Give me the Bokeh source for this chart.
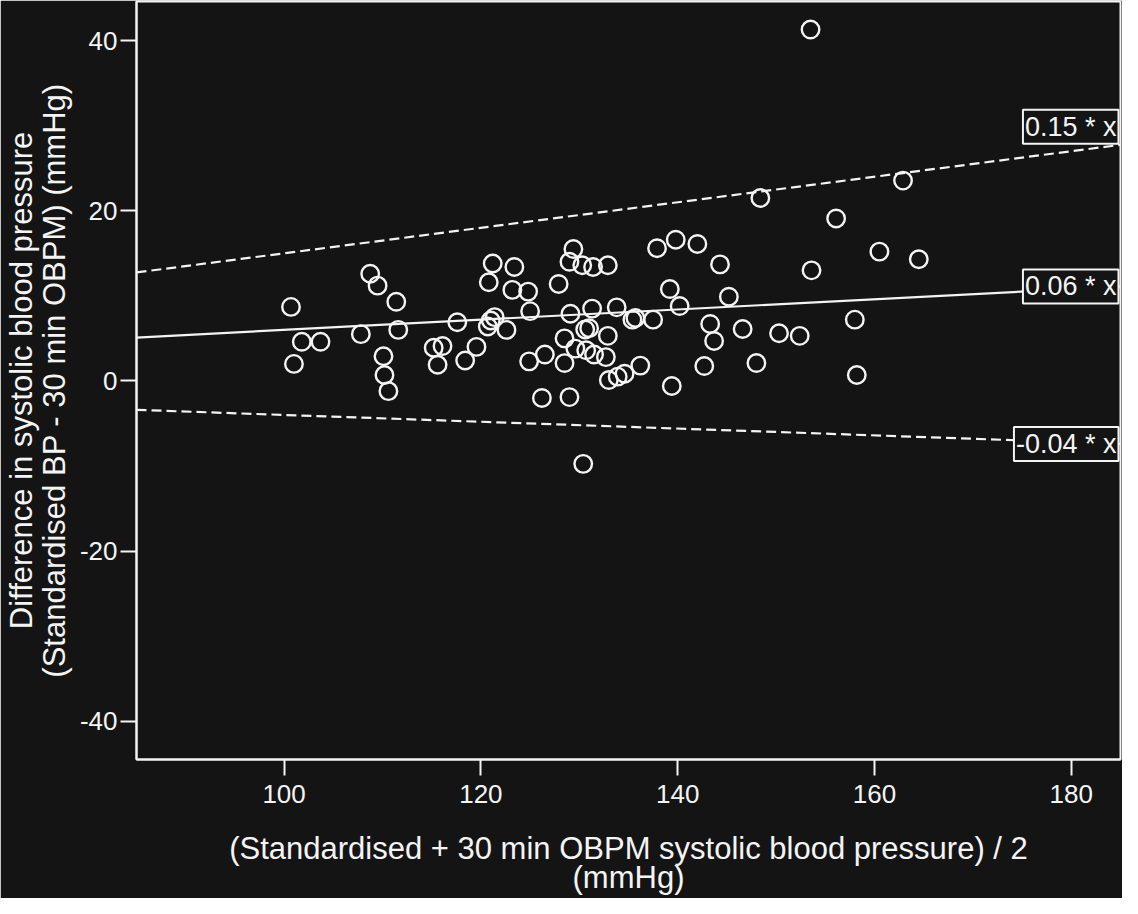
from bokeh.plotting import figure
from bokeh.models import Range1d, Label, FixedTicker
from bokeh.embed import file_html
from bokeh.resources import INLINE

# ---- data ----
mean_bp = [100.7, 101.8, 103.7, 101.0, 108.75, 109.5, 111.4, 107.8, 111.6, 110.1,
           110.2, 110.6, 117.6, 115.2, 116.1, 115.6, 118.4, 119.55, 121.2, 123.4,
           120.8, 123.2, 124.8, 127.9, 129.4, 129.0, 130.3, 131.4, 132.9, 125.0,
           121.4, 121.0, 120.7, 122.6, 129.1, 131.3, 133.8, 135.4, 135.7, 128.5,
           130.6, 131.0, 132.9, 126.5, 124.9, 128.5, 129.6, 130.7, 131.5, 132.7,
           133.0, 133.9, 134.6, 126.2, 129.0, 137.9, 139.8, 142.0, 144.3, 139.2,
           145.2, 140.2, 137.5, 143.3, 143.7, 146.6, 150.3, 152.4, 136.2, 142.7,
           148.0, 139.4, 130.4, 153.6, 160.5, 164.5, 158.0, 158.2, 153.5, 162.9,
           148.4, 156.1]
diff_bp = [8.7, 4.6, 4.6, 2.0, 12.6, 11.2, 9.3, 5.5, 6.0, 2.9,
           0.7, -1.2, 6.9, 3.9, 4.1, 1.9, 2.4, 4.0, 13.8, 13.4,
           11.6, 10.7, 10.5, 11.4, 15.5, 14.0, 13.6, 13.4, 13.6, 8.2,
           7.5, 7.1, 6.4, 6.0, 7.9, 8.5, 8.65, 7.2, 7.4, 5.0,
           6.05, 6.2, 5.3, 3.1, 2.3, 2.1, 3.8, 3.6, 3.1, 2.8,
           0.1, 0.5, 0.85, -2.0, -1.9, 15.6, 16.6, 16.1, 13.7, 10.8,
           9.9, 8.8, 7.2, 6.7, 4.7, 6.1, 5.6, 5.3, 1.8, 1.75,
           2.1, -0.6, -9.75, 13.0, 15.2, 14.3, 7.2, 0.7, 41.3, 23.55,
           21.5, 19.1]
slopes = [0.15, 0.06, -0.04]
slope_labels = ["0.15 * x", "0.06 * x", "-0.04 * x"]
slope_dash = ["10 5", "solid", "10 5"]
label_lift = [18, 0, 0]
x_ticks = [100, 120, 140, 160, 180]
y_ticks = [-40, -20, 0, 20, 40]
y_tick_text = ["-40", "-20", "0", "20", "40"]
x_lim = [85, 185]
y_lim = [-44.5, 44.6]

BG = "#141414"
FG = "#f4f4f4"
FONT = "Liberation Sans"

p = figure(width=1122, height=898, output_backend="svg", toolbar_location=None,
           x_range=Range1d(*x_lim), y_range=Range1d(*y_lim),
           min_border_left=136, min_border_right=2, min_border_top=1,
           min_border_bottom=137)
p.background_fill_color = BG
p.border_fill_color = BG
p.outline_line_color = FG
p.outline_line_width = 2
p.grid.visible = False

for ax in (p.xaxis[0], p.yaxis[0]):
    ax.axis_line_color = FG
    ax.axis_line_width = 2
    ax.major_tick_line_color = FG
    ax.major_tick_line_width = 2
    ax.major_tick_out = 16
    ax.major_tick_in = 0
    ax.minor_tick_line_color = None
    ax.major_label_text_color = FG
    ax.major_label_text_font = FONT
    ax.major_label_text_font_size = "26px"
    ax.axis_label_text_color = FG
    ax.axis_label_text_font = FONT
    ax.axis_label_text_font_size = "31px"
    ax.axis_label_text_font_style = "normal"

p.xaxis.axis_label_text_line_height = 0.85
p.yaxis.axis_label_text_line_height = 0.93
p.xaxis.ticker = FixedTicker(ticks=x_ticks)
p.yaxis.ticker = FixedTicker(ticks=y_ticks)
p.yaxis.major_label_overrides = {t: s for t, s in zip(y_ticks, y_tick_text)}
p.xaxis.major_label_standoff = 9
p.yaxis.major_label_standoff = 3
p.xaxis.axis_label = "(Standardised + 30 min OBPM systolic blood pressure) / 2\n(mmHg)"
p.yaxis.axis_label = "Difference in systolic blood pressure\n(Standardised BP - 30 min OBPM) (mmHg)"
p.xaxis.axis_label_standoff = 25
p.yaxis.axis_label_standoff = 5

for s, dash in zip(slopes, slope_dash):
    p.line(x=x_lim, y=[s * v for v in x_lim], line_color=FG, line_width=2.2,
           line_dash=dash)

p.scatter(x=mean_bp, y=diff_bp, marker="circle", size=17.5, fill_color=None,
          line_color=FG, line_width=2.4)

for s, txt, lift in zip(slopes, slope_labels, label_lift):
    p.add_layout(Label(x=x_lim[1], y=s * x_lim[1], text=txt, x_offset=-2,
                       y_offset=lift, text_align="right", text_baseline="middle",
                       text_color=FG, text_font=FONT, text_font_size="27px",
                       background_fill_color=BG, border_line_color=FG,
                       border_line_width=2, padding=2))

open("out.html", "w").write(file_html(p, INLINE))
